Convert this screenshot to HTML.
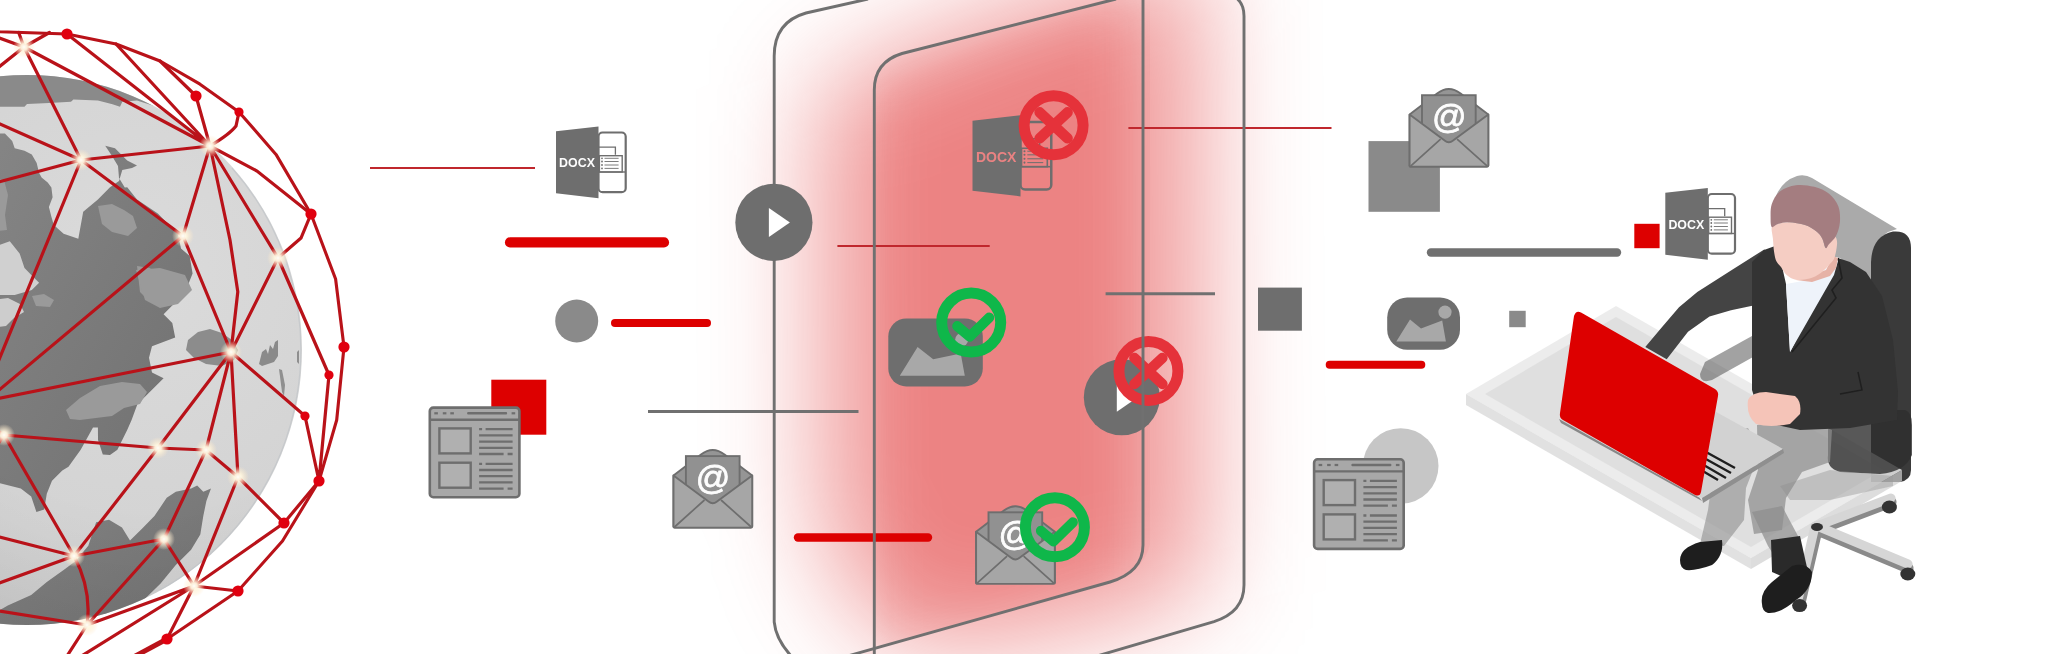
<!DOCTYPE html>
<html><head><meta charset="utf-8"><title>Secure file transfer</title>
<style>html,body{margin:0;padding:0;background:#fff;overflow:hidden}svg{display:block}</style>
</head><body>
<svg width="2048" height="654" viewBox="0 0 2048 654">
<rect width="2048" height="654" fill="#fff"/>
<defs>
<filter id="blurG" x="-50%" y="-50%" width="200%" height="200%"><feGaussianBlur stdDeviation="48"/></filter>
<filter id="blurS" x="-100%" y="-100%" width="300%" height="300%"><feGaussianBlur stdDeviation="2.2"/></filter>
<radialGradient id="globeG" cx="0.7" cy="0.36" r="0.85">
 <stop offset="0" stop-color="#dbdbdb"/><stop offset="0.6" stop-color="#d3d3d3"/><stop offset="0.85" stop-color="#c9c9c9"/><stop offset="1" stop-color="#b8b8b8"/></radialGradient>
<linearGradient id="contG" x1="0" y1="0" x2="1" y2="1">
 <stop offset="0" stop-color="#858585"/><stop offset="1" stop-color="#707070"/></linearGradient>
<radialGradient id="nodeG"><stop offset="0" stop-color="#fffef8"/><stop offset="0.3" stop-color="#fff7e0" stop-opacity="0.95"/><stop offset="0.6" stop-color="#fff0d4" stop-opacity="0.55"/><stop offset="1" stop-color="#ffe8c8" stop-opacity="0"/></radialGradient>
<radialGradient id="shadeG" cx="0.72" cy="0.32" r="0.85"><stop offset="0" stop-color="#000" stop-opacity="0"/><stop offset="0.55" stop-color="#000" stop-opacity="0"/><stop offset="0.85" stop-color="#000" stop-opacity="0.05"/><stop offset="1" stop-color="#000" stop-opacity="0.1"/></radialGradient>
<clipPath id="globeClip"><circle cx="27" cy="350" r="275"/></clipPath>
</defs>
<defs><filter id="gb1" x="-60%" y="-60%" width="220%" height="220%" color-interpolation-filters="sRGB"><feGaussianBlur stdDeviation="54"/></filter><filter id="gb2" x="-60%" y="-60%" width="220%" height="220%" color-interpolation-filters="sRGB"><feGaussianBlur stdDeviation="26"/></filter><clipPath id="innerClip"><path d="M874.3 700V90Q874.3 62 902 53.5L1150 -12V545Q1143 572 1110 582L820 664Z"/></clipPath></defs>
<polygon points="818,90 1000,12 1200,-50 1204,590 1060,632 910,650 850,590 820,520" fill="#dc1414" fill-opacity="0.43" filter="url(#gb1)"/>
<g clip-path="url(#innerClip)"><polygon points="866,80 1000,30 1128,-10 1128,590 1000,640 870,660" fill="#dc1414" fill-opacity="0.17" filter="url(#gb2)"/></g>
<circle cx="27" cy="350" r="275" fill="url(#globeG)"/>
<g clip-path="url(#globeClip)">
<polygon points="-10.0,60.0 220.0,60.0 215.0,122.0 180.0,112.0 156.6,106.7 137.0,100.6 122.3,101.8 120.0,106.7 112.5,104.3 97.9,100.6 73.4,99.4 71.0,101.8 49.0,103.0 27.0,104.0 24.5,106.7 -10.0,106.7" fill="#8a8a8a" />
<polygon points="-10.0,133.6 4.9,133.6 7.3,136.0 12.2,141.0 14.7,148.3 24.5,150.7 31.8,154.4 36.7,163.0 39.0,172.8 41.6,177.6 47.7,182.5 51.4,187.4 52.6,197.2 48.9,207.0 51.4,216.8 53.8,225.0 63.6,233.8 78.3,238.7 83.2,211.8 97.9,199.6 110.0,187.3 119.0,181.0 122.3,170.0 132.0,167.9 137.0,165.4 127.2,160.5 115.0,148.3 105.2,145.8 112.0,156.0 118.0,166.0 119.0,178.0 124.8,187.4 127.2,187.3 137.0,199.6 157.8,213.6 169.4,225.3 178.0,234.0 181.0,248.5 189.7,256.0 192.6,273.6 186.8,288.0 175.2,302.6 163.6,314.3 172.3,323.0 175.2,337.5 152.0,346.2 149.0,357.8 152.0,372.4 163.6,378.2 149.0,392.7 137.4,404.3 131.6,420.0 127.2,430.0 117.4,449.7 110.0,455.0 102.8,454.6 98.0,440.0 97.9,427.6 93.0,427.6 80.7,449.7 68.5,466.8 62.3,470.4 52.0,480.8 46.8,493.8 44.2,509.4 36.4,512.0 31.2,496.4 20.8,488.6 -10.0,480.8" fill="url(#contG)" />
<polygon points="-10.0,248.5 9.8,241.2 19.6,253.4 24.5,268.0 31.8,275.4 39.1,282.8 31.8,290.0 14.7,295.0 -10.0,295.0" fill="#d0d0d0" />
<polygon points="-10.0,300.0 8.0,298.0 20.0,304.0 24.0,312.0 14.0,318.0 6.0,326.0 -10.0,328.0" fill="#cdcdcd" />
<polygon points="-10.0,177.0 4.0,180.0 8.0,195.0 5.0,215.0 7.0,230.0 -10.0,232.0" fill="#9a9a9a" />
<polygon points="98.0,206.0 112.0,204.0 124.0,210.0 133.0,216.0 137.0,228.0 128.0,236.0 112.0,232.0 102.0,224.0" fill="#9a9a9a" />
<polygon points="137.0,266.0 150.0,268.0 160.0,280.0 158.0,296.0 150.0,302.0 140.0,292.0" fill="#9a9a9a" />
<polygon points="32.0,296.0 44.0,294.0 54.0,300.0 50.0,307.0 36.0,306.0" fill="#9a9a9a" />
<polygon points="136.0,270.0 160.0,268.0 185.0,275.0 192.0,290.0 178.0,304.0 160.0,308.0 145.0,300.0" fill="#9a9a9a" />
<polygon points="66.0,410.0 80.0,398.0 100.0,386.0 122.0,382.0 140.0,384.0 147.0,392.0 140.0,404.0 124.0,408.0 112.0,416.0 96.0,418.0 80.0,420.0 70.0,419.0" fill="#9a9a9a" />
<polygon points="-10.0,616.0 7.8,605.5 31.2,595.0 46.8,582.0 65.0,569.0 75.3,561.3 88.3,545.7 96.1,522.3 109.0,519.7 122.0,527.5 130.0,540.6 142.2,528.4 154.4,516.1 166.7,497.8 175.8,491.7 191.1,488.6 197.2,485.6 203.3,491.7 211.0,488.6 206.4,500.9 203.3,516.1 200.3,534.5 191.1,549.8 175.8,565.0 160.6,583.4 145.3,598.6 140.0,640.0 -10.0,640.0" fill="url(#contG)" />
<polygon points="188.0,340.0 198.0,332.0 210.0,329.0 222.0,333.0 232.0,340.0 238.0,350.0 234.0,360.0 222.0,366.0 206.0,364.0 194.0,358.0 186.0,350.0" fill="#8c8c8c" />
<polygon points="259.0,364.0 262.0,352.0 266.0,349.0 268.0,354.0 270.0,345.0 273.0,349.0 275.0,342.0 278.0,340.0 278.0,356.0 274.0,362.0 262.0,366.0" fill="#8a8a8a" />
<polygon points="279.0,369.0 282.0,370.0 285.0,385.0 284.0,396.0 282.0,392.0" fill="#8f8f8f" />
<polygon points="297.0,352.0 299.0,350.0 299.0,364.0 297.0,362.0" fill="#8f8f8f" />
<circle cx="27" cy="350" r="275" fill="url(#shadeG)"/>
</g>
<path d="M232 168A275 275 0 0 1 160 590" fill="none" stroke="#bcc2c6" stroke-width="1.2" stroke-opacity="0.6"/>
<path d="M24.0 47.0L-20.0 31.0M24.0 47.0L18.7 32.5M24.0 47.0L49.5 32.5M24.0 47.0L-20.0 82.0M24.0 47.0L81.0 160.0M24.0 47.0L210.0 146.0M67.0 34.0L210.0 146.0M116.0 44.0L210.0 146.0M160.0 61.0L196.0 96.0M196.0 96.0L210.0 146.0M81.0 160.0L210.0 146.0M81.0 160.0L-20.0 115.0M81.0 160.0L-20.0 187.0M81.0 160.0L-20.0 406.0M81.0 160.0L183.0 236.0M210.0 146.0L183.0 236.0M210.0 146.0L278.0 258.0M183.0 236.0L-20.0 406.0M183.0 236.0L231.0 352.0M278.0 258.0L231.0 352.0M278.0 258.0L329.0 375.0M231.0 352.0L-20.0 402.0M231.0 352.0L158.0 448.0M231.0 352.0L206.0 450.0M231.0 352.0L238.0 477.0M231.0 352.0L305.0 416.0M329.0 375.0L319.0 481.0M305.0 416.0L319.0 481.0M4.0 435.0L-20.0 420.0M4.0 435.0L158.0 448.0M4.0 435.0L74.0 556.0M158.0 448.0L206.0 450.0M158.0 448.0L74.0 556.0M206.0 450.0L238.0 477.0M206.0 450.0L164.0 539.0M238.0 477.0L284.0 523.0M238.0 477.0L194.0 586.0M319.0 481.0L284.0 523.0M284.0 523.0L194.0 586.0M164.0 539.0L74.0 556.0M164.0 539.0L194.0 586.0M164.0 539.0L87.0 625.0M74.0 556.0L-20.0 532.0M74.0 556.0L-20.0 590.0M194.0 586.0L87.0 625.0M194.0 586.0L238.0 591.0M194.0 586.0L167.0 639.0M194.0 586.0L59.0 670.0M87.0 625.0L-20.0 608.0M87.0 625.0L58.0 670.0M4.0 435.0L-20.0 470.0M239 112L236 126Q230 134 210 146M210 146L257 171L311 214M210 146L230 240L237.8 291.7L231 352M24 47L81 160M278 258L301 238L311 214M74 556Q92 590 87 625" stroke="#b91219" stroke-width="3.2" fill="none" stroke-linecap="round"/>
<path d="M-30.0 30.0L0.0 31.8L67.0 34.0L116.0 44.0L160.0 61.0L200.0 84.2L239.0 112.0L276.0 154.4L311.0 214.0L335.6 279.0L344.0 347.0L336.7 420.0L319.0 481.0L282.5 541.0L238.0 591.0L167.0 639.0L128.0 660.0" fill="none" stroke="#b91219" stroke-width="3.1" stroke-linejoin="round"/>
<path d="M167 639L128 660" stroke="#b91219" stroke-width="5" />
<circle cx="67" cy="34" r="5.6" fill="#e0000f"/>
<circle cx="196" cy="96" r="5.6" fill="#e0000f"/>
<circle cx="239" cy="112" r="4.6" fill="#e0000f"/>
<circle cx="311" cy="214" r="5.6" fill="#e0000f"/>
<circle cx="344" cy="347" r="5.6" fill="#e0000f"/>
<circle cx="329" cy="375" r="4.6" fill="#e0000f"/>
<circle cx="305" cy="416" r="4.6" fill="#e0000f"/>
<circle cx="319" cy="481" r="5.6" fill="#e0000f"/>
<circle cx="284" cy="523" r="5.6" fill="#e0000f"/>
<circle cx="238" cy="591" r="5.6" fill="#e0000f"/>
<circle cx="167" cy="639" r="5.6" fill="#e0000f"/>
<circle cx="24" cy="47" r="11" fill="url(#nodeG)"/>
<circle cx="210" cy="146" r="11" fill="url(#nodeG)"/>
<circle cx="81" cy="160" r="11" fill="url(#nodeG)"/>
<circle cx="183" cy="236" r="11" fill="url(#nodeG)"/>
<circle cx="278" cy="258" r="11" fill="url(#nodeG)"/>
<circle cx="231" cy="352" r="11" fill="url(#nodeG)"/>
<circle cx="4" cy="435" r="11" fill="url(#nodeG)"/>
<circle cx="158" cy="448" r="11" fill="url(#nodeG)"/>
<circle cx="206" cy="450" r="11" fill="url(#nodeG)"/>
<circle cx="238" cy="477" r="11" fill="url(#nodeG)"/>
<circle cx="164" cy="539" r="11" fill="url(#nodeG)"/>
<circle cx="74" cy="556" r="11" fill="url(#nodeG)"/>
<circle cx="194" cy="586" r="11" fill="url(#nodeG)"/>
<circle cx="87" cy="625" r="11" fill="url(#nodeG)"/>
<path d="M370.0 168.0H535.0" stroke="#c0272d" stroke-width="2.2" stroke-linecap="butt"/>
<path d="M510.0 242.4H664.0" stroke="#dd0000" stroke-width="10.2" stroke-linecap="round"/>
<path d="M615.0 323.0H707.0" stroke="#dd0000" stroke-width="8.0" stroke-linecap="round"/>
<path d="M648.0 411.5H858.5" stroke="#707070" stroke-width="3.0" stroke-linecap="butt"/>
<path d="M837.4 246.0H989.7" stroke="#c0272d" stroke-width="2.2" stroke-linecap="butt"/>
<path d="M798.0 537.5H928.0" stroke="#dd0000" stroke-width="8.4" stroke-linecap="round"/>
<path d="M1128.4 128.0H1331.5" stroke="#c0272d" stroke-width="2.2" stroke-linecap="butt"/>
<path d="M1105.6 293.7H1215.0" stroke="#707070" stroke-width="3.0" stroke-linecap="butt"/>
<path d="M1431.0 252.5H1617.0" stroke="#707070" stroke-width="8.4" stroke-linecap="round"/>
<path d="M1329.7 364.7H1421.3" stroke="#dd0000" stroke-width="8.0" stroke-linecap="round"/>
<rect x="491.3" y="379.7" width="55" height="55" fill="#dd0000"/>
<circle cx="576.7" cy="321" r="21.5" fill="#8a8a8a"/>
<rect x="1258" y="287.6" width="43.9" height="43.1" fill="#6e6e6e"/>
<rect x="1368.5" y="141.1" width="71.4" height="70.7" fill="#8a8a8a"/>
<rect x="1634.3" y="223.8" width="25.3" height="24.4" fill="#dd0000"/>
<rect x="1509.2" y="310.8" width="16.5" height="16.4" fill="#8a8a8a"/>
<circle cx="1400.7" cy="466" r="37.8" fill="#c6c6c6"/>
<g transform="translate(556.00 131.30) scale(1.000)"><rect x="42.5" y="1.2" width="27.2" height="59.7" rx="4" fill="#ffffff" stroke="#6e6e6e" stroke-width="2.2"/><path d="M42.5 15.9H59.4V23.4" fill="none" stroke="#6e6e6e" stroke-width="1.3"/><rect x="43.4" y="24.4" width="22.8" height="16.3" fill="#ffffff" stroke="#6e6e6e" stroke-width="1.4"/><path d="M42.5 40.7H69.7" stroke="#6e6e6e" stroke-width="1.4"/><circle cx="46" cy="27.0" r="0.9" fill="#6e6e6e"/><path d="M48.5 27.0H62.6" stroke="#6e6e6e" stroke-width="0.9"/><circle cx="46" cy="30.2" r="0.9" fill="#6e6e6e"/><path d="M48.5 30.2H62.6" stroke="#6e6e6e" stroke-width="0.9"/><circle cx="46" cy="33.7" r="0.9" fill="#6e6e6e"/><path d="M48.5 33.7H62.6" stroke="#6e6e6e" stroke-width="0.9"/><circle cx="46" cy="37.1" r="0.9" fill="#6e6e6e"/><path d="M48.5 37.1H62.6" stroke="#6e6e6e" stroke-width="0.9"/><polygon points="0,0 42.5,-4.9 42.5,67 0,61.9" fill="#6e6e6e"/><text x="21" y="36.2" font-family="Liberation Sans, sans-serif" font-weight="bold" font-size="12.4" fill="#ffffff" text-anchor="middle" opacity="0.99">DOCX</text></g>
<g transform="translate(1665.30 192.80) scale(1.000)"><rect x="42.5" y="1.2" width="27.2" height="59.7" rx="4" fill="#ffffff" stroke="#6e6e6e" stroke-width="2.2"/><path d="M42.5 15.9H59.4V23.4" fill="none" stroke="#6e6e6e" stroke-width="1.3"/><rect x="43.4" y="24.4" width="22.8" height="16.3" fill="#ffffff" stroke="#6e6e6e" stroke-width="1.4"/><path d="M42.5 40.7H69.7" stroke="#6e6e6e" stroke-width="1.4"/><circle cx="46" cy="27.0" r="0.9" fill="#6e6e6e"/><path d="M48.5 27.0H62.6" stroke="#6e6e6e" stroke-width="0.9"/><circle cx="46" cy="30.2" r="0.9" fill="#6e6e6e"/><path d="M48.5 30.2H62.6" stroke="#6e6e6e" stroke-width="0.9"/><circle cx="46" cy="33.7" r="0.9" fill="#6e6e6e"/><path d="M48.5 33.7H62.6" stroke="#6e6e6e" stroke-width="0.9"/><circle cx="46" cy="37.1" r="0.9" fill="#6e6e6e"/><path d="M48.5 37.1H62.6" stroke="#6e6e6e" stroke-width="0.9"/><polygon points="0,0 42.5,-4.9 42.5,67 0,61.9" fill="#6e6e6e"/><text x="21" y="36.2" font-family="Liberation Sans, sans-serif" font-weight="bold" font-size="12.4" fill="#ffffff" text-anchor="middle" opacity="0.99">DOCX</text></g>
<g transform="translate(428.60 406.40)"><rect x="1.2" y="1.2" width="89.6" height="89.6" rx="3.5" fill="#a8a8a8" stroke="#6e6e6e" stroke-width="2.6"/><path d="M1.2 13.3H90.8" stroke="#6e6e6e" stroke-width="2.4"/><rect x="5.7" y="5.8" width="3.6" height="2.2" fill="#6e6e6e"/><rect x="14.2" y="5.8" width="3.6" height="2.2" fill="#6e6e6e"/><rect x="21.7" y="5.8" width="3.6" height="2.2" fill="#6e6e6e"/><rect x="38.5" y="5.6" width="40" height="2.6" rx="1" fill="#6e6e6e"/><rect x="83" y="5.8" width="3.6" height="2.2" fill="#6e6e6e"/><rect x="10.8" y="22.0" width="31.3" height="25" fill="#b0b0b0" stroke="#6e6e6e" stroke-width="2.4"/><rect x="10.8" y="56.3" width="31.3" height="25" fill="#b0b0b0" stroke="#6e6e6e" stroke-width="2.4"/><path d="M50.5 22.8H53.5M57 22.8H84" stroke="#6e6e6e" stroke-width="2.3"/><path d="M50.5 29.0H84" stroke="#6e6e6e" stroke-width="2.3"/><path d="M50.5 35.2H84" stroke="#6e6e6e" stroke-width="2.3"/><path d="M50.5 41.4H84" stroke="#6e6e6e" stroke-width="2.3"/><path d="M50.5 47.6H75M79 47.6H84" stroke="#6e6e6e" stroke-width="2.3"/><path d="M50.5 57.4H53.5M57 57.4H84" stroke="#6e6e6e" stroke-width="2.3"/><path d="M50.5 63.6H84" stroke="#6e6e6e" stroke-width="2.3"/><path d="M50.5 69.8H84" stroke="#6e6e6e" stroke-width="2.3"/><path d="M50.5 76.0H84" stroke="#6e6e6e" stroke-width="2.3"/><path d="M50.5 82.2H75M79 82.2H84" stroke="#6e6e6e" stroke-width="2.3"/></g>
<g transform="translate(1312.90 458.10)"><rect x="1.2" y="1.2" width="89.6" height="89.6" rx="3.5" fill="#a8a8a8" stroke="#6e6e6e" stroke-width="2.6"/><path d="M1.2 13.3H90.8" stroke="#6e6e6e" stroke-width="2.4"/><rect x="5.7" y="5.8" width="3.6" height="2.2" fill="#6e6e6e"/><rect x="14.2" y="5.8" width="3.6" height="2.2" fill="#6e6e6e"/><rect x="21.7" y="5.8" width="3.6" height="2.2" fill="#6e6e6e"/><rect x="38.5" y="5.6" width="40" height="2.6" rx="1" fill="#6e6e6e"/><rect x="83" y="5.8" width="3.6" height="2.2" fill="#6e6e6e"/><rect x="10.8" y="22.0" width="31.3" height="25" fill="#b0b0b0" stroke="#6e6e6e" stroke-width="2.4"/><rect x="10.8" y="56.3" width="31.3" height="25" fill="#b0b0b0" stroke="#6e6e6e" stroke-width="2.4"/><path d="M50.5 22.8H53.5M57 22.8H84" stroke="#6e6e6e" stroke-width="2.3"/><path d="M50.5 29.0H84" stroke="#6e6e6e" stroke-width="2.3"/><path d="M50.5 35.2H84" stroke="#6e6e6e" stroke-width="2.3"/><path d="M50.5 41.4H84" stroke="#6e6e6e" stroke-width="2.3"/><path d="M50.5 47.6H75M79 47.6H84" stroke="#6e6e6e" stroke-width="2.3"/><path d="M50.5 57.4H53.5M57 57.4H84" stroke="#6e6e6e" stroke-width="2.3"/><path d="M50.5 63.6H84" stroke="#6e6e6e" stroke-width="2.3"/><path d="M50.5 69.8H84" stroke="#6e6e6e" stroke-width="2.3"/><path d="M50.5 76.0H84" stroke="#6e6e6e" stroke-width="2.3"/><path d="M50.5 82.2H75M79 82.2H84" stroke="#6e6e6e" stroke-width="2.3"/></g>
<g transform="translate(673.50 449.50) scale(1.000)"><path d="M0 26L27.5 5Q39.2 -4 51 5L78.7 26V77H0Z" fill="#959595" stroke="#6e6e6e" stroke-width="1.9" stroke-linejoin="round"/><rect x="12.4" y="6.6" width="53.7" height="50" fill="#919191" stroke="#6e6e6e" stroke-width="1.9"/><text x="39.6" y="39.5" font-family="Liberation Sans, sans-serif" font-size="34" fill="#fff" stroke="#fff" stroke-width="0.8" text-anchor="middle" opacity="0.99">@</text><path d="M0 26L35 52Q39.2 55.5 43.5 52L78.7 26V77Q78.7 78.2 77.5 78.2H1.2Q0 78.2 0 77Z" fill="#a6a6a6" stroke="#6e6e6e" stroke-width="1.9" stroke-linejoin="round"/><path d="M1 77.5L31 50.5M77.7 77.5L47.5 50.5" stroke="#6e6e6e" stroke-width="1.7"/></g>
<g transform="translate(1409.60 88.60) scale(1.000)"><path d="M0 26L27.5 5Q39.2 -4 51 5L78.7 26V77H0Z" fill="#959595" stroke="#6e6e6e" stroke-width="1.9" stroke-linejoin="round"/><rect x="12.4" y="6.6" width="53.7" height="50" fill="#919191" stroke="#6e6e6e" stroke-width="1.9"/><text x="39.6" y="39.5" font-family="Liberation Sans, sans-serif" font-size="34" fill="#fff" stroke="#fff" stroke-width="0.8" text-anchor="middle" opacity="0.99">@</text><path d="M0 26L35 52Q39.2 55.5 43.5 52L78.7 26V77Q78.7 78.2 77.5 78.2H1.2Q0 78.2 0 77Z" fill="#a6a6a6" stroke="#6e6e6e" stroke-width="1.9" stroke-linejoin="round"/><path d="M1 77.5L31 50.5M77.7 77.5L47.5 50.5" stroke="#6e6e6e" stroke-width="1.7"/></g>
<rect x="1387.2" y="297.4" width="72.8" height="52.3" rx="20.0" fill="#6e6e6e"/><polygon points="1396.3,341.5 1410.0,319.4 1421.0,328.6 1442.2,320.4 1445.9,341.5" fill="#a8a8a8" /><circle cx="1445.0" cy="312.1" r="6.6" fill="#a8a8a8"/>
<g transform="translate(972.50 120.70) scale(1.130)"><rect x="42.5" y="1.2" width="27.2" height="59.7" rx="4" fill="#ec8383" stroke="#6e6e6e" stroke-width="2.2"/><path d="M42.5 15.9H59.4V23.4" fill="none" stroke="#6e6e6e" stroke-width="1.3"/><rect x="43.4" y="24.4" width="22.8" height="16.3" fill="#ec8383" stroke="#6e6e6e" stroke-width="1.4"/><path d="M42.5 40.7H69.7" stroke="#6e6e6e" stroke-width="1.4"/><circle cx="46" cy="27.0" r="0.9" fill="#6e6e6e"/><path d="M48.5 27.0H62.6" stroke="#6e6e6e" stroke-width="0.9"/><circle cx="46" cy="30.2" r="0.9" fill="#6e6e6e"/><path d="M48.5 30.2H62.6" stroke="#6e6e6e" stroke-width="0.9"/><circle cx="46" cy="33.7" r="0.9" fill="#6e6e6e"/><path d="M48.5 33.7H62.6" stroke="#6e6e6e" stroke-width="0.9"/><circle cx="46" cy="37.1" r="0.9" fill="#6e6e6e"/><path d="M48.5 37.1H62.6" stroke="#6e6e6e" stroke-width="0.9"/><polygon points="0,0 42.5,-4.9 42.5,67 0,61.9" fill="#6e6e6e"/><text x="21" y="36.2" font-family="Liberation Sans, sans-serif" font-weight="bold" font-size="12.4" fill="#ec8383" text-anchor="middle" opacity="0.99">DOCX</text></g>
<g transform="translate(976.10 505.70) scale(1.000)"><path d="M0 26L27.5 5Q39.2 -4 51 5L78.7 26V77H0Z" fill="#959595" stroke="#6e6e6e" stroke-width="1.9" stroke-linejoin="round"/><rect x="12.4" y="6.6" width="53.7" height="50" fill="#919191" stroke="#6e6e6e" stroke-width="1.9"/><text x="39.6" y="39.5" font-family="Liberation Sans, sans-serif" font-size="34" fill="#fff" stroke="#fff" stroke-width="0.8" text-anchor="middle" opacity="0.99">@</text><path d="M0 26L35 52Q39.2 55.5 43.5 52L78.7 26V77Q78.7 78.2 77.5 78.2H1.2Q0 78.2 0 77Z" fill="#a6a6a6" stroke="#6e6e6e" stroke-width="1.9" stroke-linejoin="round"/><path d="M1 77.5L31 50.5M77.7 77.5L47.5 50.5" stroke="#6e6e6e" stroke-width="1.7"/></g>
<rect x="888.3" y="318.5" width="94.5" height="67.9" rx="18.0" fill="#6e6e6e"/><polygon points="899.8,375.8 917.6,347.0 933.2,359.3 960.7,353.4 964.8,375.8" fill="#a8a8a8" /><circle cx="961.7" cy="339.6" r="6.5" fill="#a8a8a8"/>
<circle cx="1121.8" cy="397.3" r="38.0" fill="#6e6e6e"/><polygon points="1116.8,382.8 1137.8,397.3 1116.8,411.8" fill="#fff"/>
<circle cx="971.2" cy="322.6" r="29.5" fill="none" stroke="#0fb74a" stroke-width="11"/><path d="M957.2 326.1L969.7 336.6L989.2 317.6" fill="none" stroke="#0fb74a" stroke-width="10" stroke-linecap="round" stroke-linejoin="round"/>
<circle cx="1054.9" cy="527.3" r="29.5" fill="none" stroke="#0fb74a" stroke-width="11"/><path d="M1040.9 530.8L1053.4 541.3L1072.9 522.3" fill="none" stroke="#0fb74a" stroke-width="10" stroke-linecap="round" stroke-linejoin="round"/>
<circle cx="1053.6" cy="125.3" r="29.5" fill="none" stroke="#e5323a" stroke-width="11"/><path d="M1039.6 112.3L1067.6 138.3M1067.6 112.3L1039.6 138.3" stroke="#e5323a" stroke-width="10.5" stroke-linecap="round"/>
<circle cx="1148.4" cy="371.0" r="29.5" fill="none" stroke="#e5323a" stroke-width="11"/><path d="M1134.4 358.0L1162.4 384.0M1162.4 358.0L1134.4 384.0" stroke="#e5323a" stroke-width="10.5" stroke-linecap="round"/>
<path d="M797 662Q776 642 774.2 622V56Q774.2 22 806 13L868 -1" fill="none" stroke="#707070" stroke-width="2.9"/>
<path d="M1235 -3Q1244 3 1244 16V585Q1244 612 1214 621.6L1080 661" fill="none" stroke="#707070" stroke-width="2.9"/>
<path d="M874.3 662V90Q874.3 62 902 53.5L1116 -1" fill="none" stroke="#707070" stroke-width="2.9"/>
<path d="M1143 -2V545Q1143 572 1110 582L830 661" fill="none" stroke="#707070" stroke-width="2.9"/>
<path d="M1776 196Q1782 181 1797 176Q1805 174 1812 178L1897 229L1888 232Q1874 240 1871 262L1871 284L1840 258L1800 250Z" fill="#aaaaaa"/><path d="M1871 420V262Q1872 236 1893 231.5Q1911 230 1911 248V470Q1911 480 1900 482L1871 482Z" fill="#3a3a3a"/><polygon points="1466.0,394.0 1616.0,306.0 1902.0,470.0 1751.0,558.0" fill="#e9e9e9" fill-opacity="0.85"/><polygon points="1485.0,394.0 1616.0,317.0 1883.0,470.0 1751.0,547.0" fill="#d6d6d6" fill-opacity="0.55"/><polygon points="1466.0,394.0 1751.0,558.0 1751.0,569.0 1466.0,405.0" fill="#d9d9d9" fill-opacity="0.8"/><polygon points="1751.0,558.0 1902.0,470.0 1902.0,481.0 1751.0,569.0" fill="#cfcfcf" fill-opacity="0.7"/><path d="M1817 530L1891 502M1817 530L1908 568M1817 530L1800 603" stroke="#8a8a8a" stroke-width="11" stroke-linecap="round"/><path d="M1817 526L1891 498M1817 526L1908 564M1815 526L1798 600" stroke="#d6d6d6" stroke-width="9" stroke-linecap="round"/><ellipse cx="1889.4" cy="507.0" rx="7.5" ry="6.5" fill="#333"/><ellipse cx="1907.8" cy="574.0" rx="7.5" ry="6.5" fill="#333"/><ellipse cx="1799.6" cy="605.6" rx="7.5" ry="6.5" fill="#333"/><ellipse cx="1817" cy="527" rx="6" ry="4" fill="#333"/><path d="M1828 430Q1830 412 1850 410L1905 410Q1912 412 1912 425L1912 455Q1905 472 1880 474L1840 472Q1826 468 1828 455Z" fill="#2e2e2e" fill-opacity="0.8"/><polygon points="1780.0,486.0 1830.0,470.0 1893.0,476.0 1893.0,486.0 1830.0,500.0 1790.0,500.0" fill="#9a9a9a" fill-opacity="0.45"/><polygon points="1757.0,425.0 1800.0,416.0 1832.0,430.0 1830.0,462.0 1802.0,472.0 1786.0,498.0 1782.0,530.0 1754.0,534.0 1748.0,500.0 1758.0,470.0" fill="#8e8e8e" fill-opacity="0.72"/><polygon points="1752.0,512.0 1782.0,506.0 1798.0,536.0 1806.0,566.0 1786.0,574.0 1768.0,546.0" fill="#8e8e8e" fill-opacity="0.72"/><polygon points="1706.0,438.0 1748.0,428.0 1760.0,452.0 1746.0,488.0 1744.0,520.0 1724.0,546.0 1700.0,544.0 1708.0,510.0 1712.0,480.0" fill="#8e8e8e" fill-opacity="0.6"/><polygon points="1771.0,540.0 1800.0,536.0 1808.0,572.0 1790.0,580.0 1772.0,572.0" fill="#2a2a2a" /><path d="M1680 560Q1680 548 1700 542L1722 540Q1724 556 1712 565Q1696 571 1686 570Q1680 568 1680 560Z" fill="#1e1e1e"/><path d="M1762 604Q1760 592 1772 582L1792 566Q1806 562 1812 572Q1812 590 1796 600Q1780 614 1768 613Q1762 611 1762 604Z" fill="#1e1e1e"/><polygon points="1561.0,420.0 1642.0,371.0 1783.0,449.0 1702.0,498.0" fill="#d2d2d2" /><polygon points="1702.0,498.0 1783.0,449.0 1784.0,453.0 1703.0,503.0" fill="#8f8f8f" /><path d="M1706 452L1735 468M1704 458L1731 473M1702 464L1726 478M1701 470L1718 480" stroke="#1e1e1e" stroke-width="2.4"/><polygon points="1559.0,419.0 1699.5,497.7 1702.0,501.0 1561.0,423.0" fill="#888888" /><path d="M1581 312.5L1715 389Q1719 392 1718 396L1701 492Q1700 497 1695 495L1563 420Q1559 418 1560 413L1574 316Q1576 310 1581 312.5Z" fill="#dd0000"/><polygon points="1764.6,249.2 1731.0,270.6 1697.3,292.0 1679.0,307.3 1660.6,328.7 1645.3,347.0 1666.7,359.3 1688.0,331.7 1709.5,316.5 1731.0,310.3 1752.3,305.7 1760.0,300.0" fill="#444444" /><path d="M1705 362L1752 336Q1760 333 1762 342L1762 352L1712 380Q1700 384 1700 374Z" fill="#555" fill-opacity="0.55"/><polygon points="1752.0,262.0 1764.0,250.0 1775.0,246.0 1781.0,262.0 1786.0,284.0 1790.0,352.0 1834.0,266.0 1838.0,258.0 1850.0,262.0 1866.0,272.0 1882.0,296.0 1893.0,340.0 1898.0,392.0 1897.0,420.0 1850.0,428.0 1800.0,430.0 1762.0,422.0 1752.0,390.0" fill="#333333" /><path d="M1838 258L1842 278L1832 290L1836 298L1792 352" fill="none" stroke="#1f1f1f" stroke-width="1.6"/><path d="M1858 372L1862 390L1840 394" fill="none" stroke="#1f1f1f" stroke-width="1.5"/><polygon points="1786.0,284.0 1810.0,279.7 1830.0,266.0 1835.0,256.7 1838.0,261.0 1834.0,275.0 1790.0,352.0" fill="#eef3fa" /><polygon points="1796.0,280.0 1826.0,270.0 1833.0,256.0 1838.0,258.0 1836.0,268.0 1830.0,276.0 1812.0,282.0" fill="#e6b2a6" /><path d="M1771.8 226.9C1772.6 224.5 1774.6 225.0 1777.5 224.2C1780.4 223.4 1784.4 222.2 1789.0 222.3C1793.6 222.5 1800.4 223.6 1805.0 225.1C1809.6 226.6 1813.6 229.3 1816.5 231.5C1819.4 233.7 1820.7 235.7 1822.2 238.4C1823.7 241.2 1824.6 248.0 1825.7 248.0C1826.8 248.0 1827.6 240.4 1829.1 238.4C1830.6 236.4 1833.5 235.3 1834.8 236.1C1836.1 236.9 1837.1 239.6 1837.1 243.0C1837.1 246.4 1835.9 253.3 1834.8 256.7C1833.7 260.1 1832.6 260.9 1830.3 263.6C1828.0 266.3 1824.5 270.3 1821.1 272.8C1817.6 275.3 1813.8 277.4 1809.6 278.5C1805.4 279.6 1799.7 280.3 1795.9 279.7C1792.1 279.1 1789.2 277.1 1786.7 275.0C1784.2 272.9 1782.7 269.3 1781.0 267.0C1779.3 264.7 1777.6 263.8 1776.4 261.3C1775.2 258.8 1774.7 255.9 1774.1 252.1C1773.5 248.3 1773.3 242.6 1772.9 238.4C1772.5 234.2 1771.0 229.3 1771.8 226.9Z" fill="#f5cdc3"/><path d="M1770.6 217.7C1770.6 213.9 1770.3 208.4 1771.8 204.0C1773.3 199.6 1775.8 194.5 1779.8 191.4C1783.8 188.3 1790.2 186.0 1795.9 185.2C1801.6 184.4 1808.7 185.4 1814.2 186.8C1819.7 188.2 1825.1 190.4 1829.1 193.7C1833.1 196.9 1836.5 201.5 1838.3 206.3C1840.1 211.1 1840.3 217.3 1839.9 222.3C1839.5 227.3 1837.8 232.5 1836.0 236.1C1834.2 239.7 1830.8 242.1 1829.1 244.1C1827.4 246.1 1826.8 248.9 1825.7 248.0C1824.6 247.1 1823.7 241.2 1822.2 238.4C1820.7 235.7 1819.4 233.7 1816.5 231.5C1813.6 229.3 1809.6 226.6 1805.0 225.1C1800.4 223.6 1793.6 222.5 1789.0 222.3C1784.4 222.2 1780.4 223.4 1777.5 224.2C1774.6 225.0 1773.0 228.0 1771.8 226.9C1770.6 225.8 1770.6 221.5 1770.6 217.7Z" fill="#a47d80"/><path d="M1748 400Q1752 392 1766 392L1795 396Q1802 402 1800 414L1790 424Q1770 428 1756 424Q1746 416 1748 400Z" fill="#f5c4b8"/>
<circle cx="773.9" cy="222.4" r="38.6" fill="#6e6e6e"/><polygon points="768.9,207.9 789.9,222.4 768.9,236.9" fill="#fff"/>
</svg>
</body></html>
